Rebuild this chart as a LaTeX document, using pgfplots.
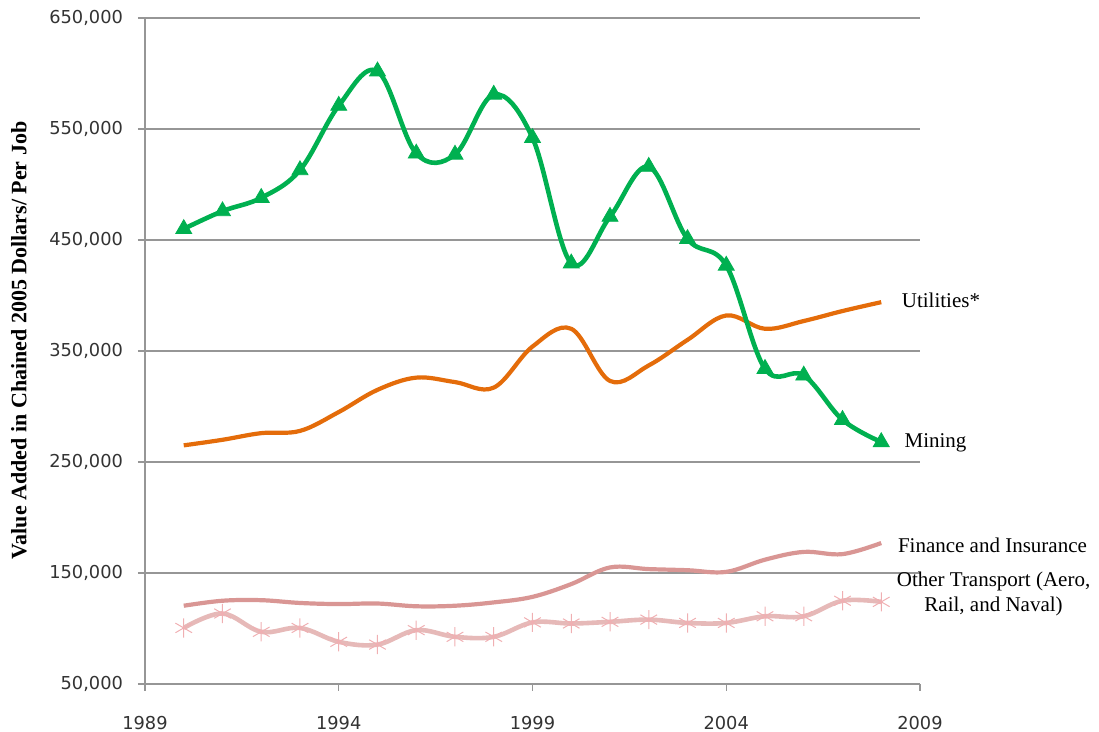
\documentclass[border=0pt]{standalone}
\usepackage{fontspec}
\setmainfont{Liberation Serif}
\newfontfamily\tickfont{DejaVu Sans}
\usepackage{pgfplots}
\pgfplotsset{compat=1.18}
\definecolor{mining}{RGB}{0,176,80}
\definecolor{util}{RGB}{228,108,10}
\definecolor{fin}{RGB}{217,150,148}
\definecolor{trans}{RGB}{230,185,184}
\definecolor{transmk}{RGB}{240,175,178}
\definecolor{gridc}{RGB}{150,150,150}

\pgfplotstableread{
year value
1990 460000
1991 476000
1992 488000
1993 513000
1994 571000
1995 602000
1996 528000
1997 527000
1998 581000
1999 542000
2000 429000
2001 471000
2002 516000
2003 451000
2004 427000
2005 334000
2006 328000
2007 288000
2008 268000
}\mining

\pgfplotstableread{
year value
1990 265000
1991 270000
1992 276000
1993 278000
1994 295000
1995 315000
1996 326000
1997 322000
1998 317000
1999 354000
2000 370000
2001 323000
2002 337000
2003 360000
2004 382000
2005 370000
2006 377000
2007 386000
2008 394000
}\utilities

\pgfplotstableread{
year value
1990 120500
1991 125000
1992 125500
1993 123000
1994 122000
1995 122500
1996 120000
1997 120500
1998 123500
1999 128500
2000 140000
2001 155000
2002 153500
2003 152500
2004 151000
2005 162000
2006 169000
2007 167000
2008 177000
}\finance

\pgfplotstableread{
year value
1990 100500
1991 113500
1992 97000
1993 100500
1994 88000
1995 85500
1996 98500
1997 92500
1998 92500
1999 105500
2000 104500
2001 106000
2002 108000
2003 105000
2004 105000
2005 111000
2006 111000
2007 125000
2008 124000
}\transport

\begin{document}
\begin{tikzpicture}
\begin{axis}[
  scale only axis,
  width=387.5pt, height=333pt,
  xmin=1989, xmax=2009,
  ymin=50000, ymax=650000,
  xtick={1989,1994,...,2009},
  ytick={50000,150000,...,650000},
  axis x line=bottom, axis y line=left,
  axis line style={-, draw=gridc, line width=0.6pt},
  tick align=outside,
  major tick length=3.5pt,
  tick style={draw=gridc, line width=0.6pt},
  ymajorgrids,
  grid style={draw=gridc, line width=0.6pt},
  scaled y ticks=false,
  /pgf/number format/assume math mode=true,
  ticklabel style={font=\tickfont\fontsize{8.9}{10}\selectfont, text=black!80},
  yticklabel style={/pgf/number format/fixed, /pgf/number format/1000 sep={,}, xshift=-4pt},
  xticklabel style={/pgf/number format/1000 sep={}, yshift=-9pt},
  ylabel={Value Added in Chained 2005 Dollars/ Per Job},
  every axis y label/.style={at={(rel axis cs:0,0.516)}, xshift=-63pt, anchor=center, rotate=90,
    font=\bfseries\fontsize{11}{13}\selectfont},
  clip=false,
]
\coordinate (bl) at (rel axis cs:0,0);
\addplot[util, line width=2.1pt, smooth, tension=0.6] table[x=year, y=value] {\utilities};
\addplot[mining, line width=2.3pt, smooth, tension=0.6, mark=triangle*, mark size=4.6pt,
  mark options={solid, fill=mining, draw=mining, line width=0.4pt}] table[x=year, y=value] {\mining};
\addplot[fin, line width=2.1pt, smooth, tension=0.6] table[x=year, y=value] {\finance};
\addplot[trans, line width=2.3pt, smooth, tension=0.6, mark=asterisk, mark size=4.8pt,
  mark options={solid, draw=transmk, line width=0.5pt}] table[x=year, y=value] {\transport};

\node[anchor=west, font=\fontsize{10.5}{12.5}\selectfont] at (axis cs:2008.35,396000) {Utilities*};
\node[anchor=west, font=\fontsize{10.5}{12.5}\selectfont] at (axis cs:2008.42,267000) {Mining};
\node[anchor=west, font=\fontsize{10.5}{12.5}\selectfont] at (axis cs:2008.25,175000) {Finance and Insurance};
\node[anchor=west, align=center, font=\fontsize{10.5}{12.5}\selectfont] at (axis cs:2008.22,131000) {Other Transport (Aero,\\Rail, and Naval)};
\end{axis}
\pgfresetboundingbox
\path (bl) ++(-72.5pt,-24pt) rectangle ++(549.5pt,366pt);
\end{tikzpicture}
\end{document}
